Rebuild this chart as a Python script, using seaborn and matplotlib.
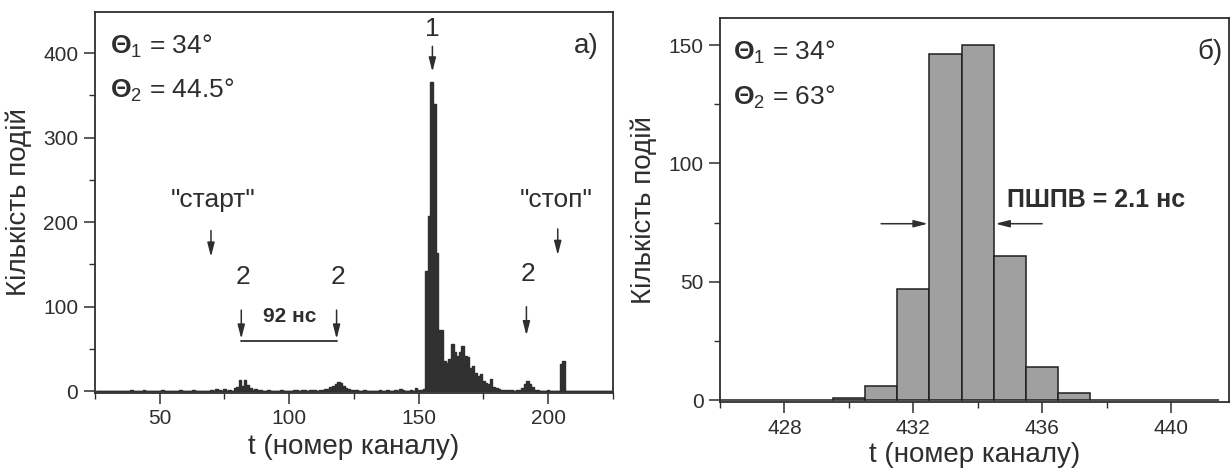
import matplotlib
matplotlib.use("Agg")
import matplotlib.pyplot as plt
import seaborn as sns
from matplotlib import font_manager
from matplotlib.ticker import MultipleLocator

# --- data: panel a) counts per channel 26..224 ---
channels_a = list(range(26, 225))
counts_a = [
    0, 0, 0, 0, 0, 0, 0, 0, 0, 0,            # 26-35
    0, 0, 0, 1, 0, 0, 0, 0, 1, 0,            # 36-45
    0, 0, 0, 0, 0, 1, 0, 0, 0, 0,            # 46-55
    0, 0, 1, 0, 0, 0, 0, 1, 0, 0,            # 56-65
    0, 0, 0, 0, 1, 0, 3, 1, 0, 3,            # 66-75
    0, 1, 0, 4, 5, 13, 6, 13, 7, 4,          # 76-85
    2, 3, 1, 1, 0, 0, 1, 0, 0, 0,            # 86-95
    0, 1, 0, 0, 0, 0, 1, 1, 0, 1,            # 96-105
    1, 0, 2, 1, 1, 0, 1, 2, 3, 3,            # 106-115
    5, 6, 8, 11, 10, 6, 4, 3, 2, 1,          # 116-125
    1, 0, 0, 1, 0, 0, 0, 0, 0, 1,            # 126-135
    0, 0, 1, 0, 0, 1, 0, 3, 1, 0,            # 136-145
    0, 1, 0, 4, 1, 2, 3, 142, 207, 366,      # 146-155
    340, 164, 73, 72, 36, 34, 38, 56, 47, 42,  # 156-165
    46, 54, 42, 40, 28, 30, 22, 18, 20, 12,  # 166-175
    10, 8, 14, 5, 4, 3, 2, 1, 1, 2,          # 176-185
    1, 0, 1, 1, 4, 8, 12, 9, 5, 2,           # 186-195
    1, 0, 0, 0, 1, 0, 0, 0, 0, 32,           # 196-205
    36, 0, 0, 0, 0, 0, 0, 0, 0, 0,           # 206-215
    0, 0, 0, 0, 0, 0, 0, 0, 0,               # 216-224
]

# --- data: panel б) ---
channels_b = [426, 427, 428, 429, 430, 431, 432, 433, 434, 435, 436, 437, 438, 439, 440, 441]
counts_b = [0, 0, 0, 0, 1, 6, 47, 146, 150, 61, 14, 3, 0, 0, 0, 0]

xticks_a = [50, 100, 150, 200]
yticks_a = [0, 100, 200, 300, 400]
xticks_b = [428, 432, 436, 440]
yticks_b = [0, 50, 100, 150]

sns.set_theme(style="ticks")

names = {f.name for f in font_manager.fontManager.ttflist}
main_font = "Liberation Sans Narrow" if "Liberation Sans Narrow" in names else "Liberation Sans"
plt.rcParams["font.family"] = [main_font, "DejaVu Sans"]
plt.rcParams["mathtext.fontset"] = "custom"
plt.rcParams["mathtext.rm"] = main_font
plt.rcParams["mathtext.bf"] = main_font + ":bold"
plt.rcParams["mathtext.default"] = "regular"

INK = "#2e2e2e"
for k in ["text.color", "axes.labelcolor", "xtick.color", "ytick.color", "axes.edgecolor"]:
    plt.rcParams[k] = INK

fig = plt.figure(figsize=(12.3, 4.76), dpi=100)
ax1 = fig.add_axes([0.0772, 0.1754, 0.4211, 0.800])
ax2 = fig.add_axes([0.5854, 0.1546, 0.4138, 0.807])

# panel a
sns.histplot(x=channels_a, weights=counts_a, discrete=True, element="step",
             fill=True, color="#303030", alpha=1.0, linewidth=1.0, ax=ax1)
ax1.set_xlim(25, 225)
ax1.set_ylim(-1.5, 449)
ax1.set_xticks(xticks_a)
ax1.set_yticks(yticks_a)
ax1.xaxis.set_minor_locator(MultipleLocator(25))
ax1.yaxis.set_minor_locator(MultipleLocator(50))

# panel б
sns.histplot(x=channels_b, weights=counts_b, discrete=True, element="bars",
             color="#a0a0a0", alpha=1.0, edgecolor="#1e1e1e", linewidth=1.1, ax=ax2)
ax2.set_xlim(426, 441.8)
ax2.set_ylim(-1, 161.3)
ax2.set_xticks(xticks_b)
ax2.set_yticks(yticks_b)
ax2.xaxis.set_minor_locator(MultipleLocator(2))
ax2.yaxis.set_minor_locator(MultipleLocator(25))

for ax, xpad in ((ax1, 4), (ax2, 3)):
    for s in ax.spines.values():
        s.set_visible(True)
        s.set_linewidth(1.3)
        s.set_color(INK)
    ax.tick_params(which="major", direction="out", length=8, width=1.1, labelsize=15, pad=4)
    ax.tick_params(which="minor", direction="out", length=4, width=1.0)
    ax.set_xlabel("t (номер каналу)", fontsize=20, labelpad=xpad)
    ax.set_ylabel("Кількість подій", fontsize=20, labelpad=8)

arrow = dict(arrowstyle="-|>,head_width=0.18,head_length=0.7", color=INK, lw=1.1,
             shrinkA=0, shrinkB=0)

# annotations panel a
ax1.text(31, 408, r"$\mathbf{\Theta}_1$ = 34°", fontsize=19, va="center", ha="left")
ax1.text(31, 356, r"$\mathbf{\Theta}_2$ = 44.5°", fontsize=19, va="center", ha="left")
ax1.text(219.5, 408, "а)", fontsize=20, va="center", ha="right")
ax1.text(155.2, 428, "1", fontsize=19, va="center", ha="center")
ax1.annotate("", xy=(155.3, 378), xytext=(155.3, 408), arrowprops=arrow)
ax1.text(70.5, 226, "\"старт\"", fontsize=19, va="center", ha="center")
ax1.annotate("", xy=(69.8, 159), xytext=(69.8, 190), arrowprops=arrow)
ax1.text(203, 226, "\"стоп\"", fontsize=19, va="center", ha="center")
ax1.annotate("", xy=(203.7, 161), xytext=(203.7, 192), arrowprops=arrow)
for xa, top in [(81.5, 96), (118.3, 96), (191.6, 100)]:
    ax1.text(xa + 0.5, top + 39, "2", fontsize=19, va="center", ha="center")
    ax1.annotate("", xy=(xa, top - 34), xytext=(xa, top), arrowprops=arrow)
ax1.plot([81.5, 118.3], [60, 60], color=INK, lw=1.3)
ax1.text(100, 88, "92 нс", fontsize=15, fontweight="bold", va="center", ha="center")

# annotations panel б
ax2.text(426.4, 147, r"$\mathbf{\Theta}_1$ = 34°", fontsize=19, va="center", ha="left")
ax2.text(426.4, 128, r"$\mathbf{\Theta}_2$ = 63°", fontsize=19, va="center", ha="left")
ax2.text(441.6, 147, "б)", fontsize=20, va="center", ha="right")
ax2.text(434.9, 84.6, "ПШПВ = 2.1 нс", fontsize=18, fontweight="bold", va="center", ha="left")
ax2.annotate("", xy=(432.45, 74.5), xytext=(431.0, 74.5), arrowprops=arrow)
ax2.annotate("", xy=(434.55, 74.5), xytext=(436.0, 74.5), arrowprops=arrow)

fig.savefig("out.png", dpi=100, facecolor="white")
